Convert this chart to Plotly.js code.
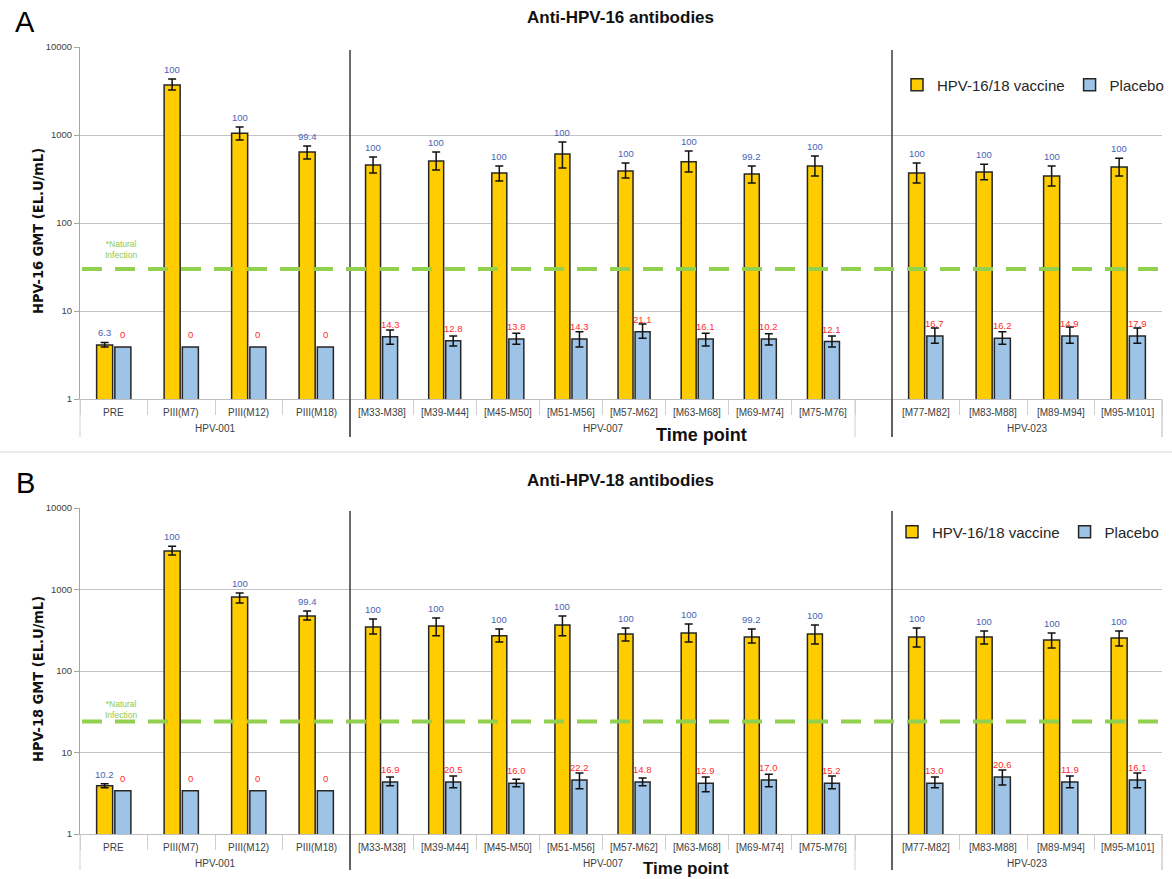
<!DOCTYPE html>
<html>
<head>
<meta charset="utf-8">
<script src="https://cdn.plot.ly/plotly-3.0.1.min.js"></script>
<style>html,body{margin:0;padding:0;background:#fff;}#chart{width:1172px;height:879px;}</style>
</head>
<body>
<div id="chart"></div>
<script>
// ---------------- DATA ----------------
const categories = ['PRE','PIII(M7)','PIII(M12)','PIII(M18)',
  '[M33-M38]','[M39-M44]','[M45-M50]','[M51-M56]','[M57-M62]','[M63-M68]','[M69-M74]','[M75-M76]',
  '[M77-M82]','[M83-M88]','[M89-M94]','[M95-M101]'];
const categoryStudy = ['HPV-001','HPV-001','HPV-001','HPV-001',
  'HPV-007','HPV-007','HPV-007','HPV-007','HPV-007','HPV-007','HPV-007','HPV-007',
  'HPV-023','HPV-023','HPV-023','HPV-023'];
const studies = ['HPV-001','HPV-007','HPV-023'];
const seriesNames = ['HPV-16/18 vaccine','Placebo'];

// Anti-HPV-16 (panel A)
const hpv16VaccineGMT   = [4.1, 3700, 1050, 640, 456, 507, 370, 608, 390, 495, 360, 444, 370, 380, 342, 433];
const hpv16VaccineUpper = [4.4, 4330, 1235, 750, 562, 641, 444, 830, 480, 660, 444, 578, 480, 466, 444, 545];
const hpv16VaccineLower = [3.9, 3240, 880, 535, 370, 400, 300, 422, 325, 380, 285, 341, 285, 310, 264, 342];
const hpv16VaccineSero  = ['6.3','100','100','99.4','100','100','100','100','100','100','99.2','100','100','100','100','100'];
const hpv16PlaceboGMT   = [3.9, 3.9, 3.9, 3.9, 5.1, 4.6, 4.8, 4.8, 5.8, 4.8, 4.8, 4.5, 5.2, 4.9, 5.2, 5.2];
const hpv16PlaceboUpper = [null, null, null, null, 6.1, 5.2, 5.6, 5.8, 7.1, 5.6, 5.5, 5.2, 6.4, 5.8, 6.6, 6.4];
const hpv16PlaceboLower = [null, null, null, null, 4.2, 4.0, 4.2, 3.9, 4.9, 4.0, 4.1, 3.9, 4.3, 4.2, 4.3, 4.3];
const hpv16PlaceboSero  = ['0','0','0','0','14.3','12.8','13.8','14.3','21.1','16.1','10.2','12.1','16.7','16.2','14.9','17.9'];
const hpv16NaturalInfection = 30;

// Anti-HPV-18 (panel B)
const hpv18VaccineGMT   = [3.9, 2970, 810, 473, 347, 357, 270, 366, 284, 292, 261, 284, 261, 261, 240, 254];
const hpv18VaccineUpper = [4.15, 3400, 906, 545, 434, 447, 327, 473, 338, 378, 327, 366, 338, 310, 292, 310];
const hpv18VaccineLower = [3.7, 2650, 683, 423, 284, 270, 227, 270, 234, 227, 220, 214, 197, 214, 192, 203];
const hpv18VaccineSero  = ['10.2','100','100','99.4','100','100','100','100','100','100','99.2','100','100','100','100','100'];
const hpv18PlaceboGMT   = [3.4, 3.4, 3.4, 3.4, 4.35, 4.35, 4.2, 4.6, 4.35, 4.2, 4.6, 4.2, 4.2, 5.0, 4.35, 4.6];
const hpv18PlaceboUpper = [null, null, null, null, 5.0, 5.15, 4.7, 5.6, 4.85, 5.0, 5.4, 5.15, 5.0, 6.1, 5.15, 5.6];
const hpv18PlaceboLower = [null, null, null, null, 3.9, 3.7, 3.8, 3.6, 3.9, 3.3, 3.8, 3.6, 3.7, 4.0, 3.7, 3.7];
const hpv18PlaceboSero  = ['0','0','0','0','16.9','20.5','16.0','22.2','14.8','12.9','17.0','15.2','13.0','20.6','11.9','16.1'];
const hpv18NaturalInfection = 24;

const yTickValues = [1, 10, 100, 1000, 10000];
const yTickLabels = ['1', '10', '100', '1000', '10000'];

// ---------------- LAYOUT HELPERS ----------------
const W = 1172, H = 879;
const px = v => v / W;
const py = v => 1 - v / H;
const FONT = 'Liberation Sans, Arial, sans-serif';
const VAC_COLOR = '#FFCC00', PLA_COLOR = '#9DC3E6';
const VAC_TXT = '#4862B4', PLA_TXT = '#FF2B2B';
const BARGAP = 0.46;

// segment x ranges in pixels: [left, lastCategoryEnd, axisEnd]
const segPx = [[80, 350, 350], [350, 855, 892], [892, 1162, 1162]];

const panels = [
  { vac: hpv16VaccineGMT, vacUp: hpv16VaccineUpper, vacLo: hpv16VaccineLower, vacSero: hpv16VaccineSero,
    pla: hpv16PlaceboGMT, plaUp: hpv16PlaceboUpper, plaLo: hpv16PlaceboLower, plaSero: hpv16PlaceboSero,
    nat: hpv16NaturalInfection, top: 47, bottom: 399, title: 'Anti-HPV-16 antibodies', letter: 'A',
    yTitle: 'HPV-16 GMT (EL.U/mL)', titleY: 18, letterY: 22, legendY: 85, legendX: 897,
    tickY: 413, groupY: 429, timeY: 435, timeX: 701, timeSize: 18, natLabelY: 250, divBottom: 437, divTop: 50 },
  { vac: hpv18VaccineGMT, vacUp: hpv18VaccineUpper, vacLo: hpv18VaccineLower, vacSero: hpv18VaccineSero,
    pla: hpv18PlaceboGMT, plaUp: hpv18PlaceboUpper, plaLo: hpv18PlaceboLower, plaSero: hpv18PlaceboSero,
    nat: hpv18NaturalInfection, top: 508, bottom: 834, title: 'Anti-HPV-18 antibodies', letter: 'B',
    yTitle: 'HPV-18 GMT (EL.U/mL)', titleY: 480, letterY: 483, legendY: 532, legendX: 892,
    tickY: 847, groupY: 863, timeY: 868, timeX: 686, timeSize: 17, natLabelY: 709, divBottom: 870, divTop: 511 }
];

const traces = [];
const annotations = [];
const shapes = [];
const layout = {
  width: W, height: H,
  margin: {l: 0, r: 0, t: 0, b: 0},
  paper_bgcolor: '#fff', plot_bgcolor: '#fff',
  font: {family: FONT, color: '#404040'},
  barmode: 'group', bargap: BARGAP, bargroupgap: 0.12,
  showlegend: true,
  hovermode: false
};

const finite = a => a.map(v => (v === null || v === undefined) ? NaN : v);
const paperText = (xp, yp, text, font, extra) => Object.assign({
  x: px(xp), y: py(yp), xref: 'paper', yref: 'paper', text: text, showarrow: false,
  xanchor: 'center', yanchor: 'middle', font: font}, extra || {});

panels.forEach((p, pi) => {
  const yName = pi === 0 ? 'y' : 'y2';
  const yKey = pi === 0 ? 'yaxis' : 'yaxis2';
  const legendKey = pi === 0 ? 'legend' : 'legend2';
  const firstX = pi * 3 + 1;
  const xRef0 = firstX === 1 ? 'x' : 'x' + firstX;

  layout[yKey] = {
    type: 'log', range: [0, 4], domain: [py(p.bottom), py(p.top)], anchor: xRef0,
    showgrid: true, gridcolor: '#C4C4C4', gridwidth: 1, zeroline: false,
    showline: true, linecolor: '#A6A6A6', linewidth: 1,
    ticks: 'outside', ticklen: 5, tickcolor: '#A6A6A6',
    tickvals: yTickValues, ticktext: yTickLabels,
    tickfont: {size: 9.5, color: '#404040', family: FONT}
  };

  studies.forEach((st, si) => {
    const k = firstX + si;
    const xRef = k === 1 ? 'x' : 'x' + k;
    const xKey = k === 1 ? 'xaxis' : 'xaxis' + k;
    const idx = categories.map((c, i) => i).filter(i => categoryStudy[i] === st);
    const cats = idx.map(i => categories[i]);
    const n = cats.length;
    const [l, lastEnd, axEnd] = segPx[si];
    const catW = (lastEnd - l) / n;
    const rangeEnd = n - 0.5 + (axEnd - lastEnd) / catW;
    layout[xKey] = {
      type: 'category', domain: [px(l), px(axEnd)], anchor: yName,
      range: [-0.5, rangeEnd], categoryorder: 'array', categoryarray: cats,
      showgrid: false, zeroline: false,
      showline: true, linecolor: '#BFBFBF', linewidth: 1,
      ticks: 'outside', tickson: 'boundaries', ticklen: 15, tickcolor: '#CFCFCF', tickwidth: 1,
      showticklabels: false
    };
    const off = catW * (1 - BARGAP) / 4;
    const pick = arr => idx.map(i => arr[i]);
    const vac = pick(p.vac), vUp = finite(pick(p.vacUp)), vLo = finite(pick(p.vacLo));
    const pla = pick(p.pla), pUp = finite(pick(p.plaUp)), pLo = finite(pick(p.plaLo));

    traces.push({
      type: 'bar', x: cats, y: vac, xaxis: xRef, yaxis: yName,
      name: seriesNames[0], legend: legendKey, legendgroup: 'vac' + pi, showlegend: si === 0,
      marker: {color: VAC_COLOR, line: {color: '#262626', width: 1.5}},
      error_y: {type: 'data', symmetric: false, array: vUp.map((u, i) => u - vac[i]),
                arrayminus: vLo.map((u, i) => vac[i] - u), color: '#111', thickness: 1.5, width: 4},
      hoverinfo: 'skip'
    });
    traces.push({
      type: 'bar', x: cats, y: pla, xaxis: xRef, yaxis: yName,
      name: seriesNames[1], legend: legendKey, legendgroup: 'pla' + pi, showlegend: si === 0,
      marker: {color: PLA_COLOR, line: {color: '#262626', width: 1.5}},
      error_y: {type: 'data', symmetric: false, array: pUp.map((u, i) => u - pla[i]),
                arrayminus: pLo.map((u, i) => pla[i] - u), color: '#111', thickness: 1.5, width: 4},
      hoverinfo: 'skip'
    });

    // seropositivity labels
    cats.forEach((c, j) => {
      const vy = isFinite(vUp[j]) ? vUp[j] : vac[j];
      annotations.push({x: c, y: Math.log10(vy), xref: xRef, yref: yName, text: pick(p.vacSero)[j],
        showarrow: false, xshift: -off, yshift: 2, xanchor: 'center', yanchor: 'bottom',
        font: {size: 9.5, color: VAC_TXT, family: FONT}});
      annotations.push({x: c, y: Math.log10(pla[j]), xref: xRef, yref: yName, text: pick(p.plaSero)[j],
        showarrow: false, xshift: off, yshift: 5, xanchor: 'center', yanchor: 'bottom',
        font: {size: 9.5, color: PLA_TXT, family: FONT}});
      // category labels
      annotations.push({x: c, y: py(p.tickY), xref: xRef, yref: 'paper', text: c, showarrow: false,
        xanchor: 'center', yanchor: 'middle', font: {size: 10, color: '#404040', family: FONT}});
    });
    // study label
    annotations.push({x: (n - 1) / 2, y: py(p.groupY), xref: xRef, yref: 'paper', text: st, showarrow: false,
      xanchor: 'center', yanchor: 'middle', font: {size: 10, color: '#404040', family: FONT}});

    // long divider lines below axis at segment edges
    [l, lastEnd, axEnd].forEach(xp => {
      shapes.push({type: 'line', xref: 'paper', yref: 'paper', x0: px(xp), x1: px(xp),
        y0: py(p.bottom), y1: py(p.divBottom), line: {color: '#CFCFCF', width: 1}});
    });
  });

  // dark vertical separators between studies
  [350, 892].forEach(xp => {
    shapes.push({type: 'line', xref: 'paper', yref: 'paper', x0: px(xp), x1: px(xp),
      y0: py(p.divTop), y1: py(p.divBottom), line: {color: '#3A3A3A', width: 1.5}});
  });

  // natural infection reference line
  shapes.push({type: 'line', xref: 'paper', yref: yName, x0: px(82), x1: px(1166),
    y0: p.nat, y1: p.nat, line: {color: '#92D050', width: 4, dash: '20px,13px'}});
  annotations.push(paperText(121, p.natLabelY, '*Natural<br>Infection',
    {size: 8.5, color: '#92C94A', family: FONT}, {align: 'center'}));

  // titles
  annotations.push(paperText(621, p.titleY, '<b>' + p.title + '</b>', {size: 17, color: '#111', family: FONT}));
  annotations.push(paperText(25, p.letterY, p.letter, {size: 29, color: '#000', family: FONT}));
  annotations.push(paperText(38, (p.top + p.bottom) / 2 + 8, '<b>' + p.yTitle + '</b>',
    {size: 14.5, color: '#111', family: 'Liberation Sans Narrow, DejaVu Sans Condensed, Arial Narrow, sans-serif'},
    {textangle: -90}));
  annotations.push(paperText(p.timeX, p.timeY, '<b>Time point</b>', {size: p.timeSize, color: '#111', family: FONT}));

  layout[legendKey] = {
    orientation: 'h', x: px(p.legendX), xanchor: 'left', y: py(p.legendY), yanchor: 'middle',
    bgcolor: 'rgba(0,0,0,0)', font: {size: 15, color: '#262626', family: FONT},
    traceorder: 'normal', itemclick: false, itemdoubleclick: false
  };
});

// separator between panels
shapes.push({type: 'line', xref: 'paper', yref: 'paper', x0: 0, x1: 1, y0: py(452), y1: py(452),
  line: {color: '#D6D6D6', width: 1}});

layout.annotations = annotations;
layout.shapes = shapes;

Plotly.newPlot('chart', traces, layout, {staticPlot: true, displayModeBar: false});
</script>
</body>
</html>
